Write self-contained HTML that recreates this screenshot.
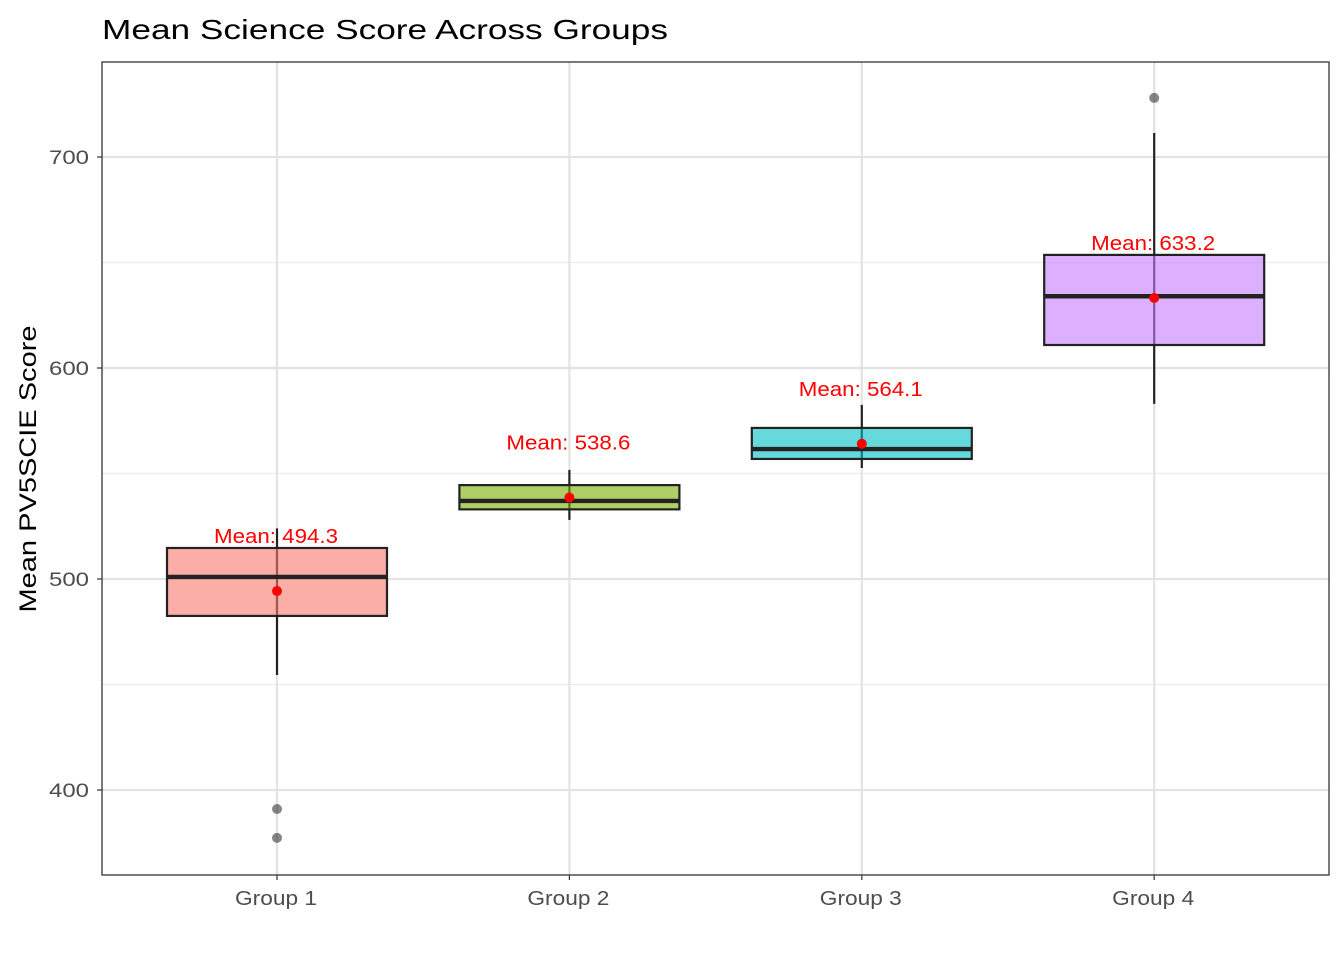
<!DOCTYPE html>
<html><head><meta charset="utf-8"><style>
body{margin:0;background:#fff}
svg text{font-family:"Liberation Sans",Arial,sans-serif}
</style></head><body>
<svg id="c" width="1344" height="960" xmlns="http://www.w3.org/2000/svg">
<rect width="1344" height="960" fill="#fff"/>
<text x="102" y="39" font-size="28" textLength="566" lengthAdjust="spacingAndGlyphs" fill="#000">Mean Science Score Across Groups</text>
<text transform="translate(36,469) rotate(-90)" text-anchor="middle" font-size="24" textLength="287" lengthAdjust="spacingAndGlyphs" fill="#000">Mean PV5SCIE Score</text>
<g id="grid"></g><g id="marks"></g>
<rect x="102" y="62" width="1227" height="813" fill="none" stroke="#333" stroke-width="1.3"/>
</svg>
<script>
const categories=["Group 1","Group 2","Group 3","Group 4"];
const q1=[482.5,533,556.9,610.9];
const medians=[501,537,561.6,634];
const q3=[514.7,544.5,571.6,653.6];
const whiskerLow=[454.5,528,552.6,583];
const whiskerHigh=[524,551.7,582.5,711.4];
const means=[494.3,538.6,564.1,633.2];
const outliers=[[391,377.3],[],[],[728]];
const colors=["#F8766D","#7CAE00","#00BFC4","#C77CFF"];
const yTicks=[400,500,600,700];
const yMinor=[450,550,650];
const NS="http://www.w3.org/2000/svg";
const y=v=>579-(v-500)*2.11;
const x=i=>277+i*292.4;
function mk(t,a,p){const e=document.createElementNS(NS,t);for(const k in a)e.setAttribute(k,a[k]);p.appendChild(e);return e;}
const g=document.getElementById('grid'),m=document.getElementById('marks'),s=document.getElementById('c');
yMinor.forEach(v=>{const l=mk('line',{x1:102,x2:1329,y1:y(v),y2:y(v),stroke:'#ebebeb','stroke-width':1.2},g);

});
yTicks.forEach(v=>{const l=mk('line',{x1:102,x2:1329,y1:y(v),y2:y(v),stroke:'#e3e3e3','stroke-width':2.2},g);


mk('line',{x1:97,x2:102,y1:y(v),y2:y(v),stroke:'#333','stroke-width':1.2},s);
const t=mk('text',{x:89,y:y(v)+7,'text-anchor':'end','font-size':19,textLength:40,lengthAdjust:'spacingAndGlyphs',fill:'#4d4d4d'},s);t.textContent=v;

});
categories.forEach((c,i)=>{const l=mk('line',{x1:x(i),x2:x(i),y1:62,y2:875,stroke:'#e3e3e3','stroke-width':2.2},g);


mk('line',{x1:x(i),x2:x(i),y1:875,y2:880,stroke:'#333','stroke-width':1.2},s);
const t=mk('text',{x:x(i)-1,y:905,'text-anchor':'middle','font-size':20,textLength:82,lengthAdjust:'spacingAndGlyphs',fill:'#4d4d4d'},s);t.textContent=c;


const w=mk('line',{x1:x(i),x2:x(i),y1:y(whiskerHigh[i]),y2:y(whiskerLow[i]),stroke:'#222','stroke-width':2.2},m);


const b=mk('rect',{x:x(i)-110,y:y(q3[i]),width:220,height:y(q1[i])-y(q3[i]),fill:colors[i],'fill-opacity':0.6,stroke:'#222','stroke-width':2.2},m);


const md=mk('line',{x1:x(i)-110,x2:x(i)+110,y1:y(medians[i]),y2:y(medians[i]),stroke:'#222','stroke-width':4.4},m);


outliers[i].forEach(o=>{const p=mk('circle',{cx:x(i),cy:y(o),r:5,fill:'#222','fill-opacity':0.55},m);

});
const mp=mk('circle',{cx:x(i),cy:y(means[i]),r:5,fill:'#ff0000'},m);


const ml=mk('text',{x:x(i)-1,y:y(means[i]+26)+7,'text-anchor':'middle','font-size':20,textLength:124,lengthAdjust:'spacingAndGlyphs',fill:'#ff0000'},m);ml.textContent='Mean: '+means[i].toFixed(1);

});
</script>
</body></html>
